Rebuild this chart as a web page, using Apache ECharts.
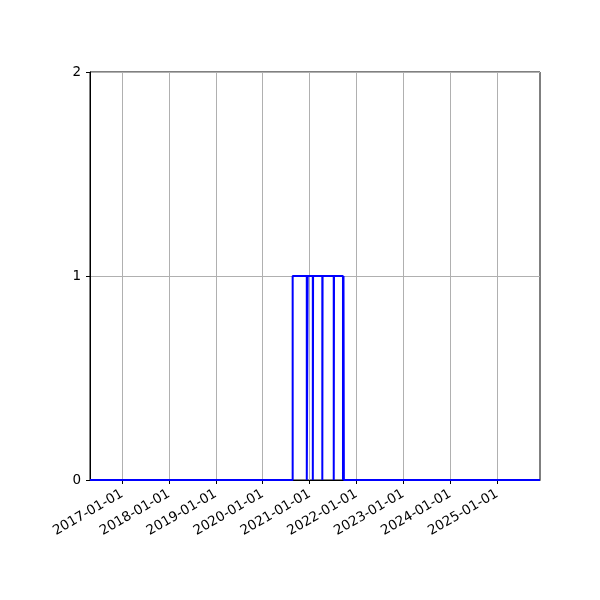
<!DOCTYPE html>
<html>
<head>
<meta charset="utf-8">
<script src="https://cdn.jsdelivr.net/npm/echarts@6/dist/echarts.min.js"></script>
<style>
html, body {margin:0;padding:0;background:#fff;}
#container {width:600px;height:600px;}
</style>
</head>
<body>
<div id="container"></div>
<script>
// step series: value holds from each date until the next one
var stepDates = ['2016-04-26','2020-08-22','2020-12-10','2020-12-17','2021-01-26','2021-01-28',
	'2021-04-10','2021-04-12','2021-07-08','2021-07-10','2021-09-18','2021-09-22','2021-09-25','2025-12-01'];
var stepValues = [0,1,0,1,0,1,0,1,0,1,0,1,0,0];

var xTickLabels = ['2017-01-01','2018-01-01','2019-01-01','2020-01-01','2021-01-01',
	'2022-01-01','2023-01-01','2024-01-01','2025-01-01'];
var yTicks = [0,1,2];

var xMin = '2016-04-26';
var xMax = '2025-12-01';

function toTime(s){
	return echarts.number.parseDate(s).getTime();
}

function pad(n){
	return n < 10 ? '0'+n : ''+n;
}

var seriesData = [];
for (var i = 0; i < stepDates.length; i++) {
	seriesData.push([toTime(stepDates[i]), stepValues[i]]);
}
var tickValues = [];
for (var j = 0; j < xTickLabels.length; j++) {
	tickValues.push(toTime(xTickLabels[j]));
}

var myChart = echarts.init(document.getElementById('container'));
myChart.setOption({
	backgroundColor: '#FFFFFF',
	animation: false,
	textStyle: {fontFamily: 'DejaVu Sans'},
	grid: {
		left: 90, right: 60, top: 72, bottom: 120,
		show: true,
		borderColor: '#000000',
		borderWidth: 1,
		containLabel: false
	},
	xAxis: {
		type: 'value',
		scale: true,
		min: toTime(xMin),
		max: toTime(xMax),
		axisLine: {show: true, onZero: false, lineStyle: {color: '#000000', width: 1}},
		axisTick: {show: true, customValues: tickValues, length: 4, lineStyle: {color: '#000000'}},
		axisLabel: {
			customValues: tickValues,
			rotate: 30,
			margin: 13,
			color: '#000000',
			fontSize: 13.5,
			fontFamily: 'DejaVu Sans',
			formatter: function (value) {
				var d = new Date(value);
				return d.getFullYear()+'-'+pad(d.getMonth()+1)+'-'+pad(d.getDate());
			}
		},
		splitLine: {show: true, lineStyle: {color: '#b0b0b0', width: 1}}
	},
	yAxis: {
		type: 'value',
		min: yTicks[0],
		max: yTicks[yTicks.length-1],
		interval: 1,
		axisLine: {show: true, lineStyle: {color: '#000000', width: 1}},
		axisTick: {show: true, length: 4, lineStyle: {color: '#000000'}},
		axisLabel: {color: '#000000', fontSize: 13.5, margin: 9, fontFamily: 'DejaVu Sans'},
		splitLine: {show: true, lineStyle: {color: '#b0b0b0', width: 1}}
	},
	series: [
		{
			type: 'line',
			step: 'end',
			data: seriesData,
			showSymbol: false,
			lineStyle: {color: '#0000FF', width: 2},
			itemStyle: {color: '#0000FF'},
			z: 5
		}
	]
});
</script>
</body>
</html>
